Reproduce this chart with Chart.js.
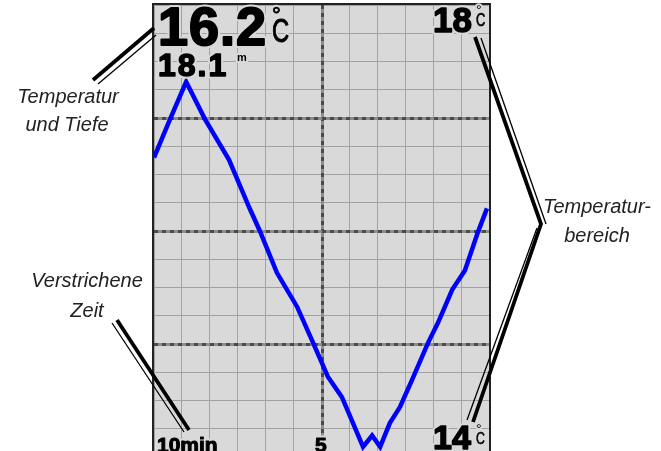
<!DOCTYPE html>
<html>
<head>
<meta charset="utf-8">
<script src="https://cdn.jsdelivr.net/npm/chart.js@4.4.1/dist/chart.umd.min.js"></script>
<style>
    html, body { margin: 0; padding: 0; background: #fff; overflow: hidden; }
    #wrap { width: 661px; height: 451px; overflow: hidden; }
    canvas { display: block; }
</style>
</head>
<body>
<div id="wrap"><canvas id="temp-chart" width="661" height="462"></canvas></div>
<script>
// minutes ago (10 = left edge, 0 = now) and water temperature in °C
const minutesAgo = [10, 9.52, 9.04, 8.48, 7.76, 7.16, 6.84, 6.33, 5.73, 5.25, 4.81, 4.39, 4.06, 3.76, 3.49, 3.25, 2.96, 2.66, 2.30, 1.82, 1.52, 1.10, 0.72, 0.33, 0.06];
const temps = [16.65, 16.99, 17.32, 16.99, 16.63, 16.21, 16.00, 15.63, 15.33, 15.01, 14.71, 14.53, 14.30, 14.09, 14.19, 14.09, 14.30, 14.44, 14.68, 15.01, 15.19, 15.48, 15.65, 15.99, 16.20];

const tempRange = [14, 18];
const timeRange = [0, 10];
const xMajor = [5];
const yMajor = [15, 16, 17];

const currentTemp = '16.2';
const currentDepth = '18.1';
const timeLabels = ['10min', '5'];

const bg = '#d9d9d9';

function haloText(ctx, text, x, y, font, heavy) {
    ctx.font = font;
    ctx.lineJoin = 'round';
    ctx.strokeStyle = bg;
    ctx.lineWidth = 4 + (heavy || 0);
    ctx.strokeText(text, x, y);
    ctx.fillStyle = '#000';
    ctx.fillText(text, x, y);
    if (heavy) {
        ctx.strokeStyle = '#000';
        ctx.lineWidth = heavy;
        ctx.strokeText(text, x, y);
    }
}

function narrowText(ctx, text, x, y, font, sx, heavy) {
    ctx.save();
    ctx.translate(x, y);
    ctx.scale(sx, 1);
    haloText(ctx, text, 0, 0, font, heavy);
    ctx.restore();
}

function doubleLine(ctx, pts, offset) {
    ctx.save();
    ctx.strokeStyle = '#000';
    ctx.lineCap = 'butt';
    ctx.lineJoin = 'miter';
    ctx.lineWidth = 3.8;
    ctx.beginPath();
    pts.forEach((p, i) => i ? ctx.lineTo(p[0], p[1]) : ctx.moveTo(p[0], p[1]));
    ctx.stroke();
    ctx.lineWidth = 1.3;
    ctx.beginPath();
    offset.forEach((p, i) => i ? ctx.lineTo(p[0], p[1]) : ctx.moveTo(p[0], p[1]));
    ctx.stroke();
    ctx.restore();
}

const panelPlugin = {
    id: 'panel',
    beforeDraw(chart) {
        const { ctx, chartArea: a } = chart;
        ctx.save();
        ctx.fillStyle = bg;
        ctx.fillRect(a.left, a.top, a.right - a.left, a.bottom - a.top);
        ctx.restore();
    },
    beforeDatasetsDraw(chart) {
        const { ctx, chartArea: a, scales } = chart;
        ctx.save();
        const dashed = (x1, y1, x2, y2) => {
            ctx.setLineDash([]);
            ctx.strokeStyle = '#8c8c8c';
            ctx.lineWidth = 3;
            ctx.beginPath(); ctx.moveTo(x1, y1); ctx.lineTo(x2, y2); ctx.stroke();
            ctx.setLineDash([4, 4]);
            ctx.strokeStyle = '#4a4a4a';
            ctx.beginPath(); ctx.moveTo(x1, y1); ctx.lineTo(x2, y2); ctx.stroke();
        };
        xMajor.forEach(v => {
            const x = Math.round(scales.x.getPixelForValue(v)) + 0.5;
            dashed(x, a.top, x, a.bottom);
        });
        yMajor.forEach(v => {
            const y = Math.round(scales.y.getPixelForValue(v)) + 0.5;
            dashed(a.left, y, a.right, y);
        });
        ctx.restore();
    },
    afterDraw(chart) {
        const { ctx, chartArea: a } = chart;
        ctx.save();
        // frame
        ctx.strokeStyle = '#222';
        ctx.lineWidth = 2;
        ctx.strokeRect(a.left - 1, a.top - 1, a.right - a.left + 2, a.bottom - a.top + 2);

        ctx.textBaseline = 'alphabetic';
        ctx.textAlign = 'left';
        ctx.letterSpacing = '1px';
        haloText(ctx, currentTemp, 158, 45, 'bold 54px "Liberation Sans"', 2);
        ctx.letterSpacing = '0px';
        haloText(ctx, '°', 272, 23, '22px "Liberation Sans"', 0.8);
        narrowText(ctx, 'C', 272, 42, '33px "Liberation Sans"', 0.72, 1);
        ctx.letterSpacing = '2px';
        haloText(ctx, currentDepth, 158, 76, 'bold 32px "Liberation Sans"', 1.5);
        ctx.letterSpacing = '0px';
        haloText(ctx, 'm', 237, 61, 'bold 11px "Liberation Sans"');

        haloText(ctx, tempRange[1].toString(), 433, 32, 'bold 35px "Liberation Sans"', 1.5);
        haloText(ctx, '°', 476, 15, '14px "Liberation Sans"');
        narrowText(ctx, 'C', 476, 26, '18px "Liberation Sans"', 0.72, 0.6);
        haloText(ctx, tempRange[0].toString(), 433, 449, 'bold 34px "Liberation Sans"', 1.5);
        haloText(ctx, '°', 476, 434, '14px "Liberation Sans"');
        narrowText(ctx, 'C', 476, 444, '17px "Liberation Sans"', 0.72, 0.6);

        haloText(ctx, timeLabels[0], 157, 452, 'bold 21px "Liberation Sans"', 1);
        haloText(ctx, timeLabels[1], 315, 452, 'bold 21px "Liberation Sans"', 1);

        // callout labels
        ctx.fillStyle = '#222';
        ctx.font = 'italic 20px "Liberation Sans"';
        ctx.textAlign = 'center';
        ctx.fillText('Temperatur', 68, 103);
        ctx.fillText('und Tiefe', 67, 131);
        ctx.fillText('Verstrichene', 87, 287);
        ctx.fillText('Zeit', 87, 317);
        ctx.fillText('Temperatur-', 597, 213);
        ctx.fillText('bereich', 597, 242);

        doubleLine(ctx, [[93, 80], [154, 28]], [[98, 84], [156, 35]]);
        doubleLine(ctx, [[117, 320], [189, 430]], [[112, 323], [184, 432]]);
        doubleLine(ctx, [[475, 37], [541, 224], [473, 422]], [[481, 38], [546, 224]]);
        doubleLine(ctx, [[473, 422], [473, 422]], [[537, 228], [467, 420]]);
        ctx.restore();
    }
};

new Chart(document.getElementById('temp-chart'), {
    type: 'line',
    data: {
        datasets: [{
            data: minutesAgo.map((m, i) => ({ x: m, y: temps[i] })),
            borderColor: '#0000ff',
            borderWidth: 4.5,
            pointRadius: 0,
            tension: 0,
            fill: false
        }]
    },
    options: {
        responsive: false,
        animation: false,
        layout: { padding: { left: 154, right: 172, top: 5, bottom: 5 } },
        plugins: { legend: { display: false }, tooltip: { enabled: false } },
        scales: {
            x: {
                type: 'linear',
                min: timeRange[0],
                max: timeRange[1],
                reverse: true,
                ticks: { display: false, count: 13 },
                grid: { color: '#a2a2a2', lineWidth: 1, drawTicks: false },
                border: { display: false }
            },
            y: {
                min: tempRange[0],
                max: tempRange[1],
                ticks: { display: false, count: 17 },
                grid: { color: '#a2a2a2', lineWidth: 1, drawTicks: false },
                border: { display: false }
            }
        }
    },
    plugins: [panelPlugin]
});
</script>
</body>
</html>
